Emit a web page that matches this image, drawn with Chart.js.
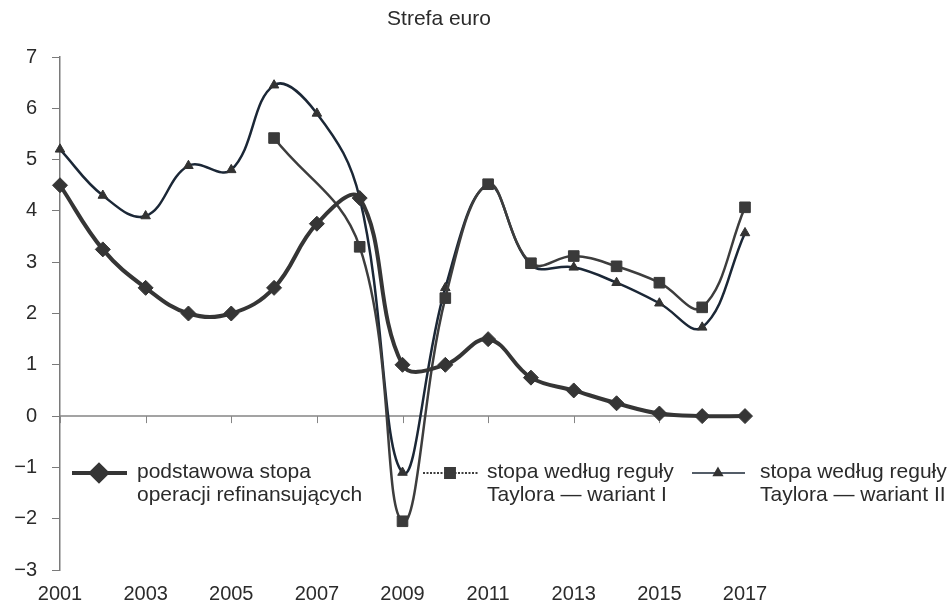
<!DOCTYPE html>
<html>
<head>
<meta charset="utf-8">
<script src="https://cdn.jsdelivr.net/npm/chart.js@4.4.1/dist/chart.umd.min.js"></script>
<style>
  html, body { margin: 0; padding: 0; background: #fff; }
  #wrap { width: 952px; height: 605px; position: relative; }
</style>
</head>
<body>
<div id="wrap"><canvas id="c" width="952" height="605"></canvas></div>
<script>
// Years on the category axis
const years = ['2001','2002','2003','2004','2005','2006','2007','2008','2009',
               '2010','2011','2012','2013','2014','2015','2016','2017'];

// Main refinancing operations rate (ECB)
const refiRate = [4.5, 3.25, 2.5, 2.0, 2.0, 2.5, 3.75, 4.25, 1.0, 1.0, 1.5, 0.75, 0.5, 0.25, 0.05, 0.0, 0.0];

// Taylor rule rate, variant I
const taylorI = [null, null, null, null, null, 5.42, null, 3.3, -2.05, 2.3, 4.52, 2.98, 3.12, 2.92, 2.6, 2.12, 4.07];

// Taylor rule rate, variant II
const taylorII = [5.2, 4.3, 3.9, 4.88, 4.8, 6.45, 5.9, 4.25, -1.1, 2.5, 4.5, 2.95, 2.9, 2.6, 2.2, 1.73, 3.57];

const yTicks = [-3, -2, -1, 0, 1, 2, 3, 4, 5, 6, 7];

const legendItems = [
  { lines: ['podstawowa stopa', 'operacji refinansujących'] },
  { lines: ['stopa według reguły', 'Taylora — wariant I'] },
  { lines: ['stopa według reguły', 'Taylora — wariant II'] }
];

const FONT = '"Liberation Sans", Arial, sans-serif';
const TEXT = '#2b2b2b';

// Title, zero line with its tick marks, and the in-plot legend
const decor = {
  id: 'decor',
  beforeDatasetsDraw(chart) {
    const { ctx, chartArea, scales } = chart;
    const y0 = scales.y.getPixelForValue(0);
    ctx.save();
    ctx.strokeStyle = '#858585';
    ctx.lineWidth = 1.5;
    ctx.beginPath();
    ctx.moveTo(chartArea.left, y0);
    ctx.lineTo(chartArea.right + 4, y0);
    ctx.stroke();
    ctx.lineWidth = 1;
    years.forEach((yr, i) => {
      if (i % 2 !== 0) return;
      const x = Math.round(scales.x.getPixelForValue(i)) + 0.5;
      ctx.beginPath();
      ctx.moveTo(x, y0);
      ctx.lineTo(x, y0 + 7);
      ctx.stroke();
    });
    ctx.restore();
  },
  afterDraw(chart) {
    const { ctx } = chart;
    const ds = chart.data.datasets;
    ctx.save();
    // title
    ctx.fillStyle = TEXT;
    ctx.font = '21px ' + FONT;
    ctx.textAlign = 'center';
    ctx.textBaseline = 'middle';
    ctx.fillText('Strefa euro', 439, 19);

    // legend
    const slots = [
      { x1: 72, x2: 127, mx: 99, tx: 137 },
      { x1: 423, x2: 478, mx: 450, tx: 487 },
      { x1: 692, x2: 745, mx: 718, tx: 760 }
    ];
    const ly = 473;
    slots.forEach((s, i) => {
      const d = ds[i];
      ctx.strokeStyle = d.borderColor;
      ctx.lineWidth = i === 0 ? 4 : (i === 1 ? 2 : 1.5);
      ctx.setLineDash(i === 1 ? [2, 1.5] : []);
      ctx.beginPath();
      ctx.moveTo(s.x1, ly);
      ctx.lineTo(s.x2, ly);
      ctx.stroke();
      ctx.setLineDash([]);
      ctx.fillStyle = d.pointBackgroundColor;
      ctx.strokeStyle = d.pointBackgroundColor;
      Chart.helpers.drawPoint(ctx, {
        pointStyle: d.pointStyle,
        radius: i === 0 ? 8 : (i === 1 ? 7 : 5),
        rotation: 0,
        borderWidth: 1
      }, s.mx, ly);
      ctx.fillStyle = TEXT;
      ctx.font = '21px ' + FONT;
      ctx.textAlign = 'left';
      ctx.textBaseline = 'middle';
      legendItems[i].lines.forEach((t, k) => {
        ctx.fillText(t, s.tx, 472 + k * 23);
      });
    });
    ctx.restore();
  }
};

new Chart(document.getElementById('c'), {
  type: 'line',
  data: {
    labels: years,
    datasets: [
      {
        label: legendItems[0].lines.join(' '),
        data: refiRate,
        borderColor: '#353535',
        backgroundColor: '#353535',
        borderWidth: 4,
        pointStyle: 'rectRot',
        pointRadius: 7.5,
        pointBackgroundColor: '#353535',
        pointBorderColor: '#353535',
        pointBorderWidth: 1,
        tension: 0.4,
        clip: false,
        order: 0
      },
      {
        label: legendItems[1].lines.join(' '),
        data: taylorI,
        borderColor: '#3d3d3d',
        backgroundColor: '#3d3d3d',
        borderWidth: 2.5,
        pointStyle: 'rect',
        pointRadius: 7.5,
        pointBackgroundColor: '#3a3a3a',
        pointBorderColor: '#3a3a3a',
        pointBorderWidth: 1,
        spanGaps: true,
        tension: 0.4,
        clip: false,
        order: 1
      },
      {
        label: legendItems[2].lines.join(' '),
        data: taylorII,
        borderColor: '#1b2736',
        backgroundColor: '#1b2736',
        borderWidth: 2.5,
        pointStyle: 'triangle',
        pointRadius: 5.5,
        pointBackgroundColor: '#333333',
        pointBorderColor: '#333333',
        pointBorderWidth: 1,
        tension: 0.4,
        clip: false,
        order: 2
      }
    ]
  },
  options: {
    responsive: false,
    animation: false,
    devicePixelRatio: 1,
    layout: { padding: { top: 57, right: 207, left: 0, bottom: 0 } },
    plugins: {
      legend: { display: false },
      title: { display: false },
      tooltip: { enabled: false }
    },
    scales: {
      x: {
        type: 'category',
        offset: false,
        grid: { display: false },
        border: { display: false },
        afterFit(scale) { scale.height = 35; },
        ticks: {
          autoSkip: false,
          maxRotation: 0,
          padding: 4,
          color: TEXT,
          font: { family: FONT, size: 20 },
          callback(v, i) { return i % 2 === 0 ? years[i] : null; }
        }
      },
      y: {
        min: -3,
        max: 7,
        afterFit(scale) { scale.width = 60; },
        afterBuildTicks(scale) { scale.ticks = yTicks.map(v => ({ value: v })); },
        border: { display: true, color: '#7a7a7a', width: 1.5 },
        grid: {
          drawOnChartArea: false,
          drawTicks: true,
          tickLength: 8,
          color: '#7a7a7a',
          lineWidth: 1
        },
        ticks: {
          padding: 15,
          color: TEXT,
          font: { family: FONT, size: 20 },
          callback(v) { return v < 0 ? '\u2212' + Math.abs(v) : String(v); }
        }
      }
    }
  },
  plugins: [decor]
});
</script>
</body>
</html>
